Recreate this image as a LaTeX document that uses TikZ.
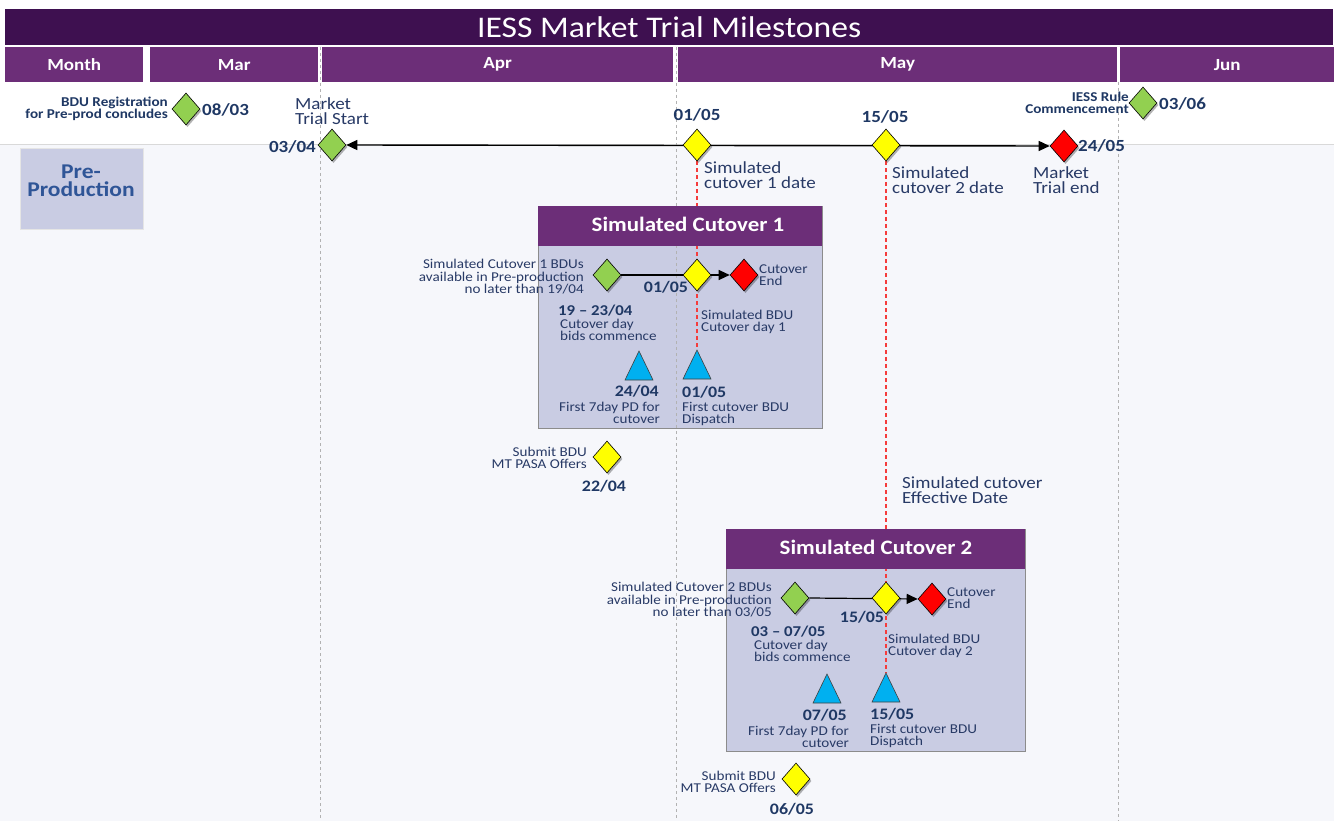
\documentclass[tikz,border=0pt]{standalone}
\usepackage{fontspec}
\setmainfont[FakeStretch=1.12]{Carlito}
\usetikzlibrary{shapes.geometric,arrows.meta,shadows}
\definecolor{titlebg}{RGB}{62,16,80}
\definecolor{monthbg}{RGB}{108,46,120}
\definecolor{boxbg}{RGB}{201,204,227}
\definecolor{bodybg}{RGB}{246,247,251}
\definecolor{navy}{RGB}{31,56,100}
\definecolor{txt}{RGB}{40,58,102}
\definecolor{preblue}{RGB}{47,85,151}
\definecolor{dgreen}{RGB}{146,208,80}
\definecolor{dyellow}{RGB}{255,255,0}
\definecolor{dred}{RGB}{255,0,0}
\definecolor{triblue}{RGB}{0,176,240}
\definecolor{redline}{RGB}{245,60,60}
\pgfdeclarelayer{back}
\pgfdeclarelayer{lines}
\pgfsetlayers{back,lines,main}
\tikzset{
  dia/.style={diamond, draw=black, line width=0.6pt, inner sep=0pt, minimum width=28, minimum height=32,
    drop shadow={shadow xshift=1.5pt, shadow yshift=-2pt, opacity=0.3, fill=black}},
  gdia/.style={dia, fill=dgreen},
  ydia/.style={dia, fill=dyellow},
  rdia/.style={dia, fill=dred},
  month/.style={fill=monthbg, text=white, inner sep=0pt, minimum height=35, anchor=north west,
    font=\fontsize{17}{17}\selectfont\bfseries},
  sm/.style={text=txt, inner sep=0pt, font=\fontsize{13.5}{12.5}\selectfont},
  smb/.style={text=navy, inner sep=0pt, font=\fontsize{13.5}{12}\selectfont\bfseries},
  md/.style={text=txt, inner sep=0pt, font=\fontsize{17}{15}\selectfont},
  dt/.style={text=navy, inner sep=0pt, font=\fontsize{17}{17}\selectfont\bfseries},
  dts/.style={text=navy, inner sep=0pt, font=\fontsize{16}{16}\selectfont\bfseries},
  boxbody/.style={fill=boxbg, draw=black!45, line width=0.8pt, anchor=north west, inner sep=0pt},
  boxhead/.style={fill=monthbg, anchor=north west, inner sep=0pt},
  headtxt/.style={text=white, inner sep=0pt, font=\fontsize{20.5}{20}\selectfont\bfseries},
  tri/.style={fill=triblue, draw=black!75, line width=0.6pt},
  tl/.style={black, line width=1.4pt},
  tip/.style={-{Triangle[length=11pt,width=10pt]}},
  reddash/.style={redline, line width=1.1pt, dash pattern=on 4pt off 3pt},
  graydash/.style={black!30, line width=0.8pt, dash pattern=on 3pt off 3pt},
}
\begin{document}
\begin{tikzpicture}[x=1pt,y=-1pt]
\useasboundingbox (0,0) rectangle (1334,821);
\begin{pgfonlayer}{back}
  \fill[white] (0,0) rectangle (1334,821);
  \fill[bodybg] (0,145) rectangle (1334,821);
  \draw[black!15, line width=1pt] (0,145) -- (1334,145);
\end{pgfonlayer}
% title and months
\node[fill=titlebg, text=white, inner sep=0pt, minimum width=1328, minimum height=36, anchor=north west,
  font=\fontsize{30}{30}\selectfont] (title) at (5,9) {IESS Market Trial Milestones};
\node[month, minimum width=138] (mMonth) at (5,47) {Month};
\node[month, minimum width=168] (mMar) at (150,47) {Mar};
\node[month, minimum width=351] (mApr) at (322,47) {Apr};
\node[month, minimum width=439] (mMay) at (678,47) {May};
\node[month, minimum width=214] (mJun) at (1120,47) {Jun};
% month separators
\coordinate (g1t) at (320,47); \coordinate (g1b) at (320,821);
\coordinate (g2t) at (676,47); \coordinate (g2b) at (676,821);
\coordinate (g3t) at (1118,82); \coordinate (g3b) at (1118,821);
\begin{pgfonlayer}{lines}
  \draw[graydash] (g1t) -- (g1b);
  \draw[graydash] (g2t) -- (g2b);
  \draw[graydash] (g3t) -- (g3b);
\end{pgfonlayer}
% pre-production
\node[fill=boxbg, draw=black!10, minimum width=123, minimum height=81, anchor=north west, inner sep=0pt] (pre) at (20,148) {};
\node[text=preblue, align=center, font=\fontsize{21}{18.5}\selectfont\bfseries] (pretxt) at (81,181) {Pre-\\Production};
% header milestones
\node[gdia] (dReg) at (186,109) {};
\node[smb, align=right, anchor=east] (tReg) at (168,109) {BDU Registration\\for Pre-prod concludes};
\node[dt, anchor=west] (dtReg) at (202,110) {08/03};
\node[gdia] (dIess) at (1143,103) {};
\node[smb, align=right, anchor=east] (tIess) at (1129,103) {IESS Rule\\Commencement};
\node[dt, anchor=west] (dtIess) at (1159,104) {03/06};
% main timeline
\node[gdia] (dStart) at (332,145) {};
\node[ydia] (dC1) at (697,145) {};
\node[ydia] (dC2) at (886,145) {};
\node[rdia] (dEnd) at (1064,146) {};
\begin{pgfonlayer}{lines}
  \draw[tl, {Triangle[length=11pt,width=10pt]}-{Triangle[length=11pt,width=10pt]}] (dStart.east) -- (dEnd.west);
\end{pgfonlayer}
\node[dt, anchor=east] (dtStart) at (316,147) {03/04};
\node[md, align=left, anchor=west] (tStart) at (295,111) {Market\\Trial Start};
\node[dt] (dtC1) at (697,115) {01/05};
\node[dt] (dtC2) at (885,117) {15/05};
\node[md, align=left, anchor=west] (tC1) at (704,175) {Simulated\\cutover 1 date};
\node[md, align=left, anchor=west] (tC2) at (892,180) {Simulated\\cutover 2 date};
\node[md, align=left, anchor=west] (tEnd) at (1033,180) {Market\\Trial end};
\node[dt, anchor=west] (dtEnd) at (1078,146) {24/05};
% ---------- Cutover 1 ----------
\begin{pgfonlayer}{back}
  \node[boxbody, minimum width=284, minimum height=222] (b1) at (538,206) {};
\end{pgfonlayer}
\node[boxhead, minimum width=284, minimum height=40] (h1) at (538,206) {};
\node[headtxt] (h1t) at (688,224) {Simulated Cutover 1};
\node[gdia] (b1g) at (607,275) {};
\node[ydia] (b1y) at (697,275) {};
\node[rdia] (b1r) at (744,275) {};
\coordinate (b1t1) at (639,351);
\coordinate (b1t2) at (697,350);
\begin{pgfonlayer}{lines}
  \draw[tl, line width=1.2pt, tip] (b1g.east) -- (b1r.west);
  \draw[reddash] (dC1.south) -- (b1t2);
\end{pgfonlayer}
\draw[tri] (b1t1) -- ++(14,29) -- ++(-28,0) -- cycle;
\draw[tri] (b1t2) -- ++(14,29) -- ++(-28,0) -- cycle;
\node[sm, align=right, anchor=east] (b1av) at (584,277) {Simulated Cutover 1 BDUs\\available in Pre-production\\no later than 19/04};
\node[dts, anchor=center] (b1d1) at (666,287) {01/05};
\node[sm, align=left, anchor=west] (b1ce) at (759,275) {Cutover\\End};
\node[dts, anchor=west, font=\fontsize{15}{15}\selectfont\bfseries] (b1bd) at (558,311) {19 -- 23/04};
\node[sm, align=left, anchor=west] (b1bt) at (560,330) {Cutover day\\bids commence};
\node[sm, align=left, anchor=west] (b1sd) at (701,322) {Simulated BDU\\Cutover day 1};
\node[dts, anchor=east] (b1pd) at (659,391) {24/04};
\node[sm, align=right, anchor=east] (b1pt) at (660,413) {First 7day PD for\\cutover};
\node[dts, anchor=west] (b1fd) at (682,392) {01/05};
\node[sm, align=left, anchor=west] (b1ft) at (682,414) {First cutover BDU\\Dispatch};
% submit 1
\node[ydia] (s1) at (607,457) {};
\node[sm, align=right, anchor=east] (s1t) at (587,458) {Submit BDU\\MT PASA Offers};
\node[dts] (s1d) at (604,486) {22/04};
% effective date
\node[md, align=left, anchor=west] (eff) at (902,490) {Simulated cutover\\Effective Date};
% ---------- Cutover 2 ----------
\begin{pgfonlayer}{back}
  \node[boxbody, minimum width=299, minimum height=222] (b2) at (726,529) {};
\end{pgfonlayer}
\node[boxhead, minimum width=299, minimum height=40] (h2) at (726,529) {};
\node[headtxt] (h2t) at (876,547) {Simulated Cutover 2};
\node[gdia] (b2g) at (795,598) {};
\node[ydia] (b2y) at (886,598) {};
\node[rdia] (b2r) at (932,599) {};
\coordinate (b2t1) at (827,674);
\coordinate (b2t2) at (886,673);
\begin{pgfonlayer}{lines}
  \draw[tl, line width=1.2pt, tip] (b2g.east) -- (b2r.west);
  \draw[reddash] (dC2.south) -- (b2t2);
\end{pgfonlayer}
\draw[tri] (b2t1) -- ++(14,29) -- ++(-28,0) -- cycle;
\draw[tri] (b2t2) -- ++(14,29) -- ++(-28,0) -- cycle;
\node[sm, align=right, anchor=east] (b2av) at (772,600) {Simulated Cutover 2 BDUs\\available in Pre-production\\no later than 03/05};
\node[dts] (b2d1) at (862,617) {15/05};
\node[sm, align=left, anchor=west] (b2ce) at (947,598) {Cutover\\End};
\node[dts, anchor=west, font=\fontsize{15}{15}\selectfont\bfseries] (b2bd) at (751,632) {03 -- 07/05};
\node[sm, align=left, anchor=west] (b2bt) at (754,651) {Cutover day\\bids commence};
\node[sm, align=left, anchor=west] (b2sd) at (888,646) {Simulated BDU\\Cutover day 2};
\node[dts, anchor=east] (b2pd) at (847,715) {07/05};
\node[sm, align=right, anchor=east] (b2pt) at (849,737) {First 7day PD for\\cutover};
\node[dts, anchor=west] (b2fd) at (870,714) {15/05};
\node[sm, align=left, anchor=west] (b2ft) at (870,736) {First cutover BDU\\Dispatch};
% submit 2
\node[ydia] (s2) at (796,779) {};
\node[sm, align=right, anchor=east] (s2t) at (776,782) {Submit BDU\\MT PASA Offers};
\node[dts] (s2d) at (792,809) {06/05};
\end{tikzpicture}
\end{document}
